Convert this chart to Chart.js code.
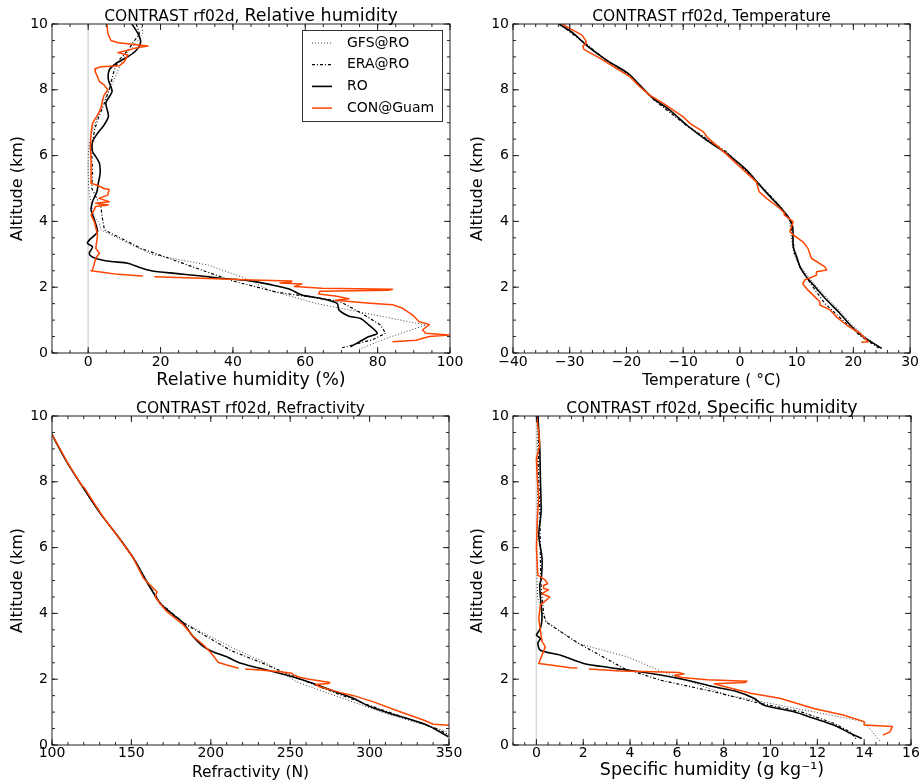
<!DOCTYPE html>
<html>
<head>
<meta charset="utf-8">
<title>CONTRAST rf02d profiles</title>
<script src="https://cdn.jsdelivr.net/npm/chart.js@4.4.1/dist/chart.umd.min.js"></script>
<style>
  html, body { margin: 0; padding: 0; background: #fff; }
  #fig { position: relative; width: 920px; height: 784px; }
  #fig canvas { position: absolute; left: 0; top: 0; }
</style>
</head>
<body>
<div id="fig">
  <canvas id="rhChart" width="920" height="784"></canvas>
  <canvas id="tChart" width="920" height="784"></canvas>
  <canvas id="nChart" width="920" height="784"></canvas>
  <canvas id="qChart" width="920" height="784"></canvas>
</div>
<script>
const FONT = 'DejaVu Sans';

// Altitude (km), shared by all panels
const altTicks = [0, 2, 4, 6, 8, 10];

// Relative humidity (%)
const rhTicks = [0, 20, 40, 60, 80, 100];
const rhGfsAlt = [10.0, 9.72, 9.45, 9.2, 9.0, 8.8, 8.45, 8.1, 7.69, 7.18, 6.78, 6.37, 6.0, 5.5, 5.1, 4.85, 4.14, 3.94, 3.74, 3.0, 2.67, 2.27, 1.91, 1.51, 0.85, 0.45, 0.11];
const rhGfs = [14.6, 15.1, 13.5, 11.5, 9.8, 9.1, 7.7, 6.3, 4.4, 2.6, 1.2, 0.3, 0.0, 0.0, 0.1, 0.3, 1.7, 3.1, 3.5, 17.5, 33.2, 43.5, 50.0, 62.8, 93.3, 82.5, 74.8];
const rhEraAlt = [10.0, 9.7, 9.45, 9.2, 8.9, 8.6, 8.3, 8.0, 7.6, 7.2, 6.8, 6.4, 6.0, 5.5, 5.0, 4.45, 4.04, 3.74, 3.18, 2.67, 2.2, 1.85, 1.58, 1.2, 0.85, 0.6, 0.4, 0.16];
const rhEra = [13.3, 14.2, 12.5, 11.0, 8.5, 7.2, 6.5, 5.8, 4.5, 3.0, 1.8, 1.2, 1.0, 1.2, 1.0, 3.5, 4.0, 4.5, 14.6, 27.6, 39.6, 52.0, 69.3, 75.7, 80.8, 82.2, 78.5, 70.2];
const rhRoAlt = [10.0, 9.72, 9.46, 9.2, 9.0, 8.8, 8.6, 8.3, 7.95, 7.6, 7.2, 6.93, 6.68, 6.42, 6.12, 5.97, 5.77, 5.46, 5.16, 4.9, 4.6, 4.35, 3.99, 3.69, 3.59, 3.43, 3.33, 3.23, 3.03, 2.93, 2.86, 2.78, 2.73, 2.6, 2.5, 2.42, 2.34, 2.28, 2.2, 2.07, 1.95, 1.76, 1.66, 1.51, 1.31, 1.12, 1.05, 0.85, 0.6, 0.5, 0.19];
const rhRo = [12.1, 13.7, 14.5, 13.3, 10.9, 7.7, 5.8, 5.6, 6.6, 4.9, 5.6, 4.4, 2.6, 1.2, 1.2, 2.1, 3.1, 3.3, 2.8, 2.4, 1.2, 0.8, 1.9, 2.6, 1.9, 0.3, -0.2, 1.2, 0.3, 1.0, 2.6, 6.3, 10.9, 14.2, 17.4, 23.9, 31.3, 35.9, 44.3, 50.8, 55.4, 59.1, 64.2, 68.8, 69.3, 72.1, 75.3, 77.6, 79.9, 77.6, 72.5];
const rhConAlt = [10.0, 9.72, 9.5, 9.43, 9.38, 9.33, 9.26, 9.2, 9.13, 9.06, 8.85, 8.73, 8.7, 8.65, 8.56, 8.4, 8.25, 8.15, 8.0, 7.84, 7.7, 7.44, 7.23, 7.08, 6.98, 6.68, 6.27, 5.8, 5.16, 5.1, 5.0, 4.97, 4.8, 4.7, 4.6, 4.55, 4.5, 4.45, 4.35, 4.19, 3.99, 3.59, 3.18, 3.03, 2.88, 2.52, 2.5, 2.45, 2.39, 2.34, 2.33, 2.32, 2.27, 2.22, 2.19, 2.16, 2.13, 2.1, 2.02, 1.97, 1.94, 1.91, 1.88, 1.79, 1.73, 1.65, 1.6, 1.52, 1.47, 1.36, 1.16, 0.95, 0.87, 0.7, 0.6, 0.55, 0.5, 0.39, 0.34];
const rhCon = [5.2, 5.4, 6.3, 8.3, 12.8, 16.5, 12.8, 10.9, 8.2, 10.9, 10.0, 8.6, 3.5, 2.1, 1.9, 2.6, 3.1, 4.4, 5.4, 4.4, 4.0, 3.5, 2.6, 1.7, 1.2, 0.8, 0.6, 0.8, 0.8, 2.5, 4.4, 5.8, 5.4, 3.0, 5.8, 2.1, 5.5, 2.0, 1.7, 0.8, 1.7, 2.6, 2.1, 3.1, 2.1, 1.2, 0.8, 4.4, 8.2, 15.1, null, 18.3, 31.3, 45.2, 56.3, 56.0, 53.0, 59.1, 57.0, 64.6, 84.1, 83.0, 64.0, 63.7, 68.3, 72.1, 68.3, 77.0, 84.1, 86.9, 89.6, 91.5, 94.3, 92.4, 93.3, 99.8, 94.3, 90.6, 84.1];

// Temperature (deg C)
const tTicks = [-40, -30, -20, -10, 0, 10, 20, 30];
const tGfsAlt = [10.0, 9.4, 8.9, 8.5, 7.7, 6.9, 6.1, 5.1, 4.45, 4.0, 3.6, 3.0, 2.6, 2.0, 1.6, 1.2, 0.8, 0.5, 0.15];
const tGfs = [-31.6, -27.0, -23.7, -20.1, -15.1, -9.1, -2.2, 3.7, 7.2, 8.8, 9.0, 9.5, 10.8, 13.6, 15.8, 18.0, 20.1, 22.0, 24.8];
const tEraAlt = [10.0, 9.4, 8.9, 8.5, 7.7, 6.9, 6.1, 5.1, 4.45, 4.0, 3.6, 3.0, 2.6, 2.0, 1.5, 1.0, 0.5, 0.15];
const tEra = [-31.8, -27.2, -23.6, -19.9, -15.2, -9.3, -2.3, 3.6, 7.1, 8.9, 9.2, 9.7, 10.6, 12.9, 15.0, 18.1, 21.4, 24.5];
const tRoAlt = [10.0, 9.72, 9.36, 8.9, 8.5, 8.15, 7.74, 7.39, 6.93, 6.47, 6.07, 5.56, 5.1, 4.7, 4.45, 4.14, 3.84, 3.23, 2.93, 2.62, 2.32, 2.02, 1.61, 1.21, 0.8, 0.5, 0.14];
const tRo = [-31.9, -29.4, -27.1, -23.5, -19.7, -17.7, -15.3, -12.4, -9.4, -5.9, -2.4, 1.2, 3.5, 5.6, 7.0, 8.5, 9.3, 9.4, 10.0, 10.6, 11.7, 13.2, 15.3, 17.6, 19.7, 21.7, 25.0];
const tConAlt = [10.0, 9.87, 9.67, 9.51, 9.41, 9.33, 9.23, 8.96, 8.65, 8.4, 8.1, 7.84, 7.59, 7.18, 6.98, 6.73, 6.53, 6.22, 5.56, 5.2, 4.9, 4.7, 4.4, 4.25, 4.2, 3.99, 3.84, 3.69, 3.59, 3.38, 3.18, 3.03, 2.88, 2.62, 2.52, 2.47, 2.37, 2.3, 2.22, 2.1, 1.91, 1.76, 1.56, 1.46, 1.31, 1.1, 0.85, 0.6, 0.34, 0.33];
const tCon = [-31.3, -30.0, -27.9, -27.2, -27.1, -27.7, -27.5, -24.7, -21.8, -19.4, -17.7, -15.9, -13.5, -10.0, -8.8, -6.5, -5.6, -3.5, 0.6, 2.9, 3.4, 4.7, 7.0, 7.9, 7.8, 9.4, 9.1, 8.8, 9.4, 11.1, 12.0, 12.3, 12.6, 15.0, 15.3, 13.5, 13.5, 12.6, 11.4, 11.1, 12.0, 12.9, 14.1, 14.1, 15.9, 17.0, 18.8, 21.2, 22.6, 21.4];

// Refractivity (N)
const nTicks = [100, 150, 200, 250, 300, 350];
const nGfsAlt = [9.45, 8.6, 7.8, 7.04, 6.38, 5.67, 5.06, 4.3, 3.7, 2.94, 2.48, 1.92, 1.52, 0.96, 0.7, 0.4];
const nGfs = [99.8, 109.4, 119.9, 130.4, 140.9, 151.4, 158.8, 168.5, 183.5, 214.3, 235.3, 254.0, 277.2, 310.0, 328.0, 349.6];
const nEraAlt = [9.45, 8.6, 7.8, 7.04, 6.38, 5.67, 5.06, 4.3, 3.7, 2.88, 2.48, 2.0, 1.5, 1.2, 0.9, 0.5, 0.3];
const nEra = [99.8, 109.4, 119.9, 130.4, 140.9, 151.4, 158.7, 168.4, 183.2, 212.2, 233.0, 256.3, 283.0, 300.0, 318.0, 342.0, 350.5];
const nRoAlt = [9.45, 8.6, 7.8, 7.04, 6.38, 5.67, 5.06, 4.81, 4.3, 3.95, 3.7, 3.34, 2.99, 2.83, 2.68, 2.51, 2.38, 2.23, 2.07, 1.87, 1.64, 1.42, 1.21, 0.96, 0.61, 0.25];
const nRo = [99.8, 109.4, 119.9, 130.4, 140.9, 151.4, 158.5, 161.5, 168.2, 176.5, 182.8, 188.1, 195.4, 201.7, 210.1, 217.5, 226.9, 239.5, 252.0, 264.6, 277.2, 289.8, 298.2, 312.9, 336.0, 349.6];
const nConAlt = [9.43, 8.6, 7.9, 7.8, 7.0, 6.3, 5.7, 5.06, 4.91, 4.71, 4.66, 4.5, 4.3, 4.05, 3.65, 3.29, 3.04, 2.83, 2.51, 2.43, 2.33, 2.32, 2.31, 2.28, 2.22, 2.18, 2.12, 2.06, 2.0, 1.94, 1.9, 1.87, 1.84, 1.78, 1.6, 1.5, 1.31, 1.01, 0.76, 0.63, 0.59];
const nCon = [100.2, 109.6, 118.6, 120.6, 131.2, 142.0, 151.0, 157.7, 160.8, 165.0, 166.1, 165.0, 168.0, 172.4, 182.8, 189.1, 195.4, 199.6, 204.8, 210.1, 217.5, null, 221.7, 231.1, 245.0, 251.0, 252.5, 256.0, 262.0, 270.0, 275.0, 274.0, 266.0, 268.0, 281.0, 290.0, 302.4, 319.2, 333.9, 340.2, 352.0];

// Specific humidity (g/kg)
const qTicks = [0, 2, 4, 6, 8, 10, 12, 14, 16];
const qGfsAlt = [10.0, 8.0, 6.0, 5.0, 4.5, 4.0, 3.74, 3.09, 2.68, 2.25, 1.52, 0.71, 0.1];
const qGfs = [0.03, 0.05, 0.02, 0.03, 0.05, 0.25, 0.46, 1.74, 3.88, 5.3, 8.15, 14.0, 14.7];
const qEraAlt = [10.0, 8.0, 7.0, 5.0, 4.45, 4.0, 3.74, 3.09, 2.33, 1.97, 1.62, 1.31, 1.01, 0.66, 0.4, 0.15];
const qEra = [0.08, 0.1, 0.15, 0.18, 0.25, 0.31, 0.4, 1.8, 3.73, 5.3, 7.58, 9.29, 11.3, 12.7, 13.4, 13.7];
const qRoAlt = [10.0, 9.11, 8.1, 7.08, 6.38, 5.67, 5.06, 4.86, 4.5, 3.9, 3.54, 3.34, 3.24, 3.09, 2.88, 2.73, 2.48, 2.35, 2.25, 2.13, 1.97, 1.77, 1.62, 1.42, 1.21, 1.01, 0.81, 0.61, 0.36, 0.2];
const qRo = [0.06, 0.14, 0.17, 0.2, 0.1, 0.24, 0.21, 0.14, 0.17, 0.24, 0.17, 0.0, 0.17, 0.06, 0.17, 1.03, 2.02, 3.16, 4.16, 5.3, 6.44, 7.58, 8.58, 9.29, 9.72, 11.0, 11.85, 12.7, 13.4, 13.9];
const qConAlt = [10.0, 9.5, 9.1, 8.7, 8.3, 7.5, 7.0, 6.0, 5.16, 5.01, 4.9, 4.85, 4.76, 4.72, 4.6, 4.5, 4.25, 3.85, 3.14, 2.99, 2.73, 2.48, 2.43, 2.35, 2.34, 2.32, 2.31, 2.25, 2.23, 2.2, 2.16, 2.12, 2.05, 1.98, 1.94, 1.9, 1.86, 1.8, 1.57, 1.42, 1.11, 0.91, 0.71, 0.61, 0.56, 0.4, 0.3];
const qCon = [0.0, 0.1, 0.14, 0.0, 0.02, 0.1, 0.05, 0.0, 0.06, 0.38, 0.48, 0.3, 0.31, 0.52, 0.24, 0.57, 0.17, 0.1, 0.24, 0.38, 0.24, 0.1, 0.6, 1.45, 1.75, null, 2.24, 3.59, 4.96, 6.1, 6.3, 5.9, 6.2, 7.3, 9.0, 8.9, 7.6, 7.9, 9.15, 10.4, 11.85, 13.1, 14.0, 14.0, 15.2, 15.1, 14.8];

// Line styles for the four sources
const styles = {
    gfs: { label: 'GFS@RO', color: '#444', width: 1, dash: [1, 2], tension: 0, order: 4 },
    era: { label: 'ERA@RO', color: '#000', width: 1.2, dash: [3, 2, 1, 2], tension: 0, order: 3 },
    ro: { label: 'RO', color: '#000', width: 1.6, dash: [], tension: 0.25, order: 2 },
    con: { label: 'CON@Guam', color: '#ff4500', width: 1.5, dash: [], tension: 0, order: 1 }
};

function series(key, alt, values) {
    const s = styles[key];
    return {
        label: s.label,
        data: alt.map((a, i) => ({ x: values[i], y: a })),
        showLine: true,
        pointRadius: 0,
        borderColor: s.color,
        borderWidth: s.width,
        borderDash: s.dash,
        borderJoinStyle: 'round',
        tension: s.tension,
        order: s.order
    };
}

function stepsBetween(min, max, step) {
    const out = [];
    for (let k = Math.ceil(min / step - 1e-9); k * step <= max + 1e-9; k++) out.push(k * step);
    return out;
}

// Box around the axes with inward ticks on every side, optional line at x = 0
function framePlugin(cfg) {
    return {
        id: 'frame',
        beforeDatasetsDraw(chart) {
            if (!cfg.zeroLine) return;
            const { ctx, chartArea: a } = chart;
            const px = chart.scales.x.getPixelForValue(0);
            ctx.save();
            ctx.strokeStyle = '#d9d9d9';
            ctx.lineWidth = 1.5;
            ctx.beginPath();
            ctx.moveTo(px, a.top);
            ctx.lineTo(px, a.bottom);
            ctx.stroke();
            ctx.restore();
        },
        afterDatasetsDraw(chart) {
            const { ctx, chartArea: a, scales } = chart;
            const tickX = (v, len) => {
                const p = scales.x.getPixelForValue(v);
                ctx.moveTo(p, a.bottom); ctx.lineTo(p, a.bottom - len);
                ctx.moveTo(p, a.top); ctx.lineTo(p, a.top + len);
            };
            const tickY = (v, len) => {
                const p = scales.y.getPixelForValue(v);
                ctx.moveTo(a.left, p); ctx.lineTo(a.left + len, p);
                ctx.moveTo(a.right, p); ctx.lineTo(a.right - len, p);
            };
            ctx.save();
            ctx.strokeStyle = '#222';
            ctx.lineWidth = 1;
            ctx.beginPath();
            stepsBetween(cfg.xMin, cfg.xMax, cfg.xMinor).forEach(v => tickX(v, 3));
            cfg.xTicks.forEach(v => tickX(v, 6));
            stepsBetween(0, 10, 0.5).forEach(v => tickY(v, 3));
            altTicks.forEach(v => tickY(v, 6));
            ctx.stroke();
            ctx.strokeRect(a.left, a.top, a.right - a.left, a.bottom - a.top);
            ctx.restore();
        }
    };
}

// Panel heading, the quantity name set a little larger
function titlePlugin(main, mainSize) {
    return {
        id: 'panelTitle',
        afterDraw(chart) {
            const { ctx, chartArea: a } = chart;
            const prefix = 'CONTRAST rf02d, ';
            const f1 = `15.5px "${FONT}"`;
            const f2 = `${mainSize}px "${FONT}"`;
            ctx.save();
            ctx.font = f1;
            const w1 = ctx.measureText(prefix).width;
            ctx.font = f2;
            const w2 = ctx.measureText(main).width;
            const x0 = (a.left + a.right) / 2 - (w1 + w2) / 2;
            const y0 = a.top - 3;
            ctx.fillStyle = '#000';
            ctx.textAlign = 'left';
            ctx.textBaseline = 'alphabetic';
            ctx.font = f1;
            ctx.fillText(prefix, x0, y0);
            ctx.font = f2;
            ctx.fillText(main, x0 + w1, y0);
            ctx.restore();
        }
    };
}

// Boxed legend in the upper right corner
const legendPlugin = {
    id: 'legendBox',
    afterDatasetsDraw(chart) {
        const { ctx, chartArea: a } = chart;
        const w = 140, h = 91;
        const x0 = Math.round(a.right - 8 - w), y0 = Math.round(a.top + 6);
        ctx.save();
        ctx.fillStyle = '#fff';
        ctx.fillRect(x0, y0, w, h);
        ctx.strokeStyle = '#333';
        ctx.lineWidth = 1;
        ctx.strokeRect(x0 + 0.5, y0 + 0.5, w, h);
        ctx.font = `14px "${FONT}"`;
        ctx.textBaseline = 'middle';
        ['gfs', 'era', 'ro', 'con'].forEach((key, i) => {
            const s = styles[key];
            const y = y0 + 13 + i * 21.7;
            ctx.strokeStyle = s.color;
            ctx.lineWidth = s.width;
            ctx.setLineDash(s.dash);
            ctx.beginPath();
            ctx.moveTo(x0 + 10, y);
            ctx.lineTo(x0 + 30, y);
            ctx.stroke();
            ctx.setLineDash([]);
            ctx.fillStyle = '#000';
            ctx.fillText(s.label, x0 + 45, y);
        });
        ctx.restore();
    }
};

function panel(id, cfg) {
    const [left, top, right, bottom] = cfg.area;
    const plugins = [framePlugin(cfg), titlePlugin(cfg.title, cfg.titleSize)];
    if (cfg.legend) plugins.push(legendPlugin);
    return new Chart(document.getElementById(id), {
        type: 'scatter',
        data: { datasets: cfg.datasets },
        options: {
            responsive: false,
            animation: false,
            events: [],
            layout: {
                autoPadding: false,
                padding: { left: left - cfg.yWidth, top: top, right: 920 - right, bottom: 784 - bottom - cfg.xHeight }
            },
            plugins: {
                legend: { display: false },
                tooltip: { enabled: false }
            },
            scales: {
                x: {
                    type: 'linear',
                    position: 'bottom',
                    min: cfg.xMin,
                    max: cfg.xMax,
                    grid: { display: false, drawTicks: false },
                    border: { display: false },
                    afterBuildTicks: s => { s.ticks = cfg.xTicks.map(v => ({ value: v })); },
                    afterFit: s => { s.height = cfg.xHeight; },
                    ticks: {
                        padding: cfg.xTickPad,
                        autoSkip: false,
                        maxRotation: 0,
                        color: '#000',
                        font: { family: FONT, size: 14 },
                        callback: v => String(v).replace('-', '\u2212')
                    },
                    title: {
                        display: true,
                        text: cfg.xTitle,
                        color: '#000',
                        font: { family: FONT, size: cfg.xTitleSize },
                        padding: { top: 0, bottom: cfg.xTitlePad }
                    }
                },
                y: {
                    type: 'linear',
                    position: 'left',
                    min: 0,
                    max: 10,
                    grid: { display: false, drawTicks: false },
                    border: { display: false },
                    afterBuildTicks: s => { s.ticks = altTicks.map(v => ({ value: v })); },
                    afterFit: s => { s.width = cfg.yWidth; },
                    ticks: { padding: 4, autoSkip: false, color: '#000', font: { family: FONT, size: 14 } },
                    title: {
                        display: true,
                        text: 'Altitude (km)',
                        color: '#000',
                        font: { family: FONT, size: 16 },
                        padding: { top: 4, bottom: 0 }
                    }
                }
            }
        },
        plugins: plugins
    });
}

panel('rhChart', {
    area: [52, 24, 450, 353], yWidth: 48, xHeight: 40, xTickPad: 1,
    xMin: -10, xMax: 100, xTicks: rhTicks, xMinor: 5,
    xTitle: 'Relative humidity (%)', xTitleSize: 17.5, xTitlePad: 2.5,
    title: 'Relative humidity', titleSize: 17.5, zeroLine: true, legend: true,
    datasets: [
        series('gfs', rhGfsAlt, rhGfs),
        series('era', rhEraAlt, rhEra),
        series('ro', rhRoAlt, rhRo),
        series('con', rhConAlt, rhCon)
    ]
});

panel('tChart', {
    area: [513, 24, 911, 353], yWidth: 49, xHeight: 40, xTickPad: 1,
    xMin: -40, xMax: 30, xTicks: tTicks, xMinor: 2,
    xTitle: 'Temperature ( \u00B0C)', xTitleSize: 15.5, xTitlePad: 2.7,
    title: 'Temperature', titleSize: 15.5,
    datasets: [
        series('gfs', tGfsAlt, tGfs),
        series('era', tEraAlt, tEra),
        series('ro', tRoAlt, tRo),
        series('con', tConAlt, tCon)
    ]
});

panel('nChart', {
    area: [52, 416, 449, 745], yWidth: 48, xHeight: 39, xTickPad: 0,
    xMin: 100, xMax: 350, xTicks: nTicks, xMinor: 10,
    xTitle: 'Refractivity (N)', xTitleSize: 15.5, xTitlePad: 1.4,
    title: 'Refractivity', titleSize: 15.5,
    datasets: [
        series('gfs', nGfsAlt, nGfs),
        series('era', nEraAlt, nEra),
        series('ro', nRoAlt, nRo),
        series('con', nConAlt, nCon)
    ]
});

panel('qChart', {
    area: [513, 416, 911, 745], yWidth: 49, xHeight: 39, xTickPad: 0,
    xMin: -1, xMax: 16, xTicks: qTicks, xMinor: 0.5,
    xTitle: 'Specific humidity (g kg\u207B\u00B9)', xTitleSize: 17.5, xTitlePad: 3,
    title: 'Specific humidity', titleSize: 17.5, zeroLine: true,
    datasets: [
        series('gfs', qGfsAlt, qGfs),
        series('era', qEraAlt, qEra),
        series('ro', qRoAlt, qRo),
        series('con', qConAlt, qCon)
    ]
});
</script>
</body>
</html>
